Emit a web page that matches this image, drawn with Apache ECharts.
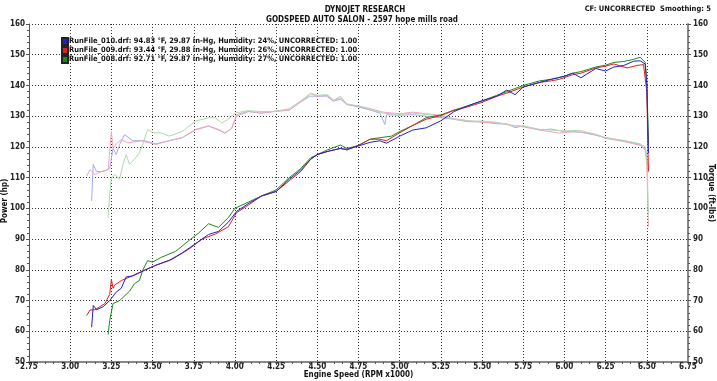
<!DOCTYPE html>
<html>
<head>
<meta charset="utf-8">
<script src="https://cdn.jsdelivr.net/npm/echarts@6/dist/echarts.min.js"></script>
<style>
html,body{margin:0;padding:0;background:#fff;}
#chart{width:717px;height:381px;}
</style>
</head>
<body>
<div id="chart"></div>
<script>
// ---- data (RPM x1000, value) ----
const names = [
  'RunFile_010.drf: 94.83 °F, 29.87 in-Hg, Humidity: 24%, UNCORRECTED: 1.00',
  'RunFile_009.drf: 93.44 °F, 29.88 in-Hg, Humidity: 26%, UNCORRECTED: 1.00',
  'RunFile_008.drf: 92.71 °F, 29.87 in-Hg, Humidity: 27%, UNCORRECTED: 1.00'
];
const xTicks = [2.75,3.00,3.25,3.50,3.75,4.00,4.25,4.50,4.75,5.00,5.25,5.50,5.75,6.00,6.25,6.50,6.75];

const rpmHp010 = [3.13,3.14,3.16,3.20,3.24,3.28,3.31,3.34,3.38,3.45,3.52,3.60,3.68,3.76,3.84,3.90,3.96,4.01,4.08,4.16,4.25,4.33,4.40,4.46,4.50,4.56,4.60,4.64,4.68,4.75,4.82,4.88,4.92,5.00,5.08,5.16,5.25,5.33,5.41,5.50,5.59,5.65,5.70,5.75,5.85,5.92,6.00,6.05,6.10,6.19,6.25,6.30,6.36,6.42,6.46,6.49,6.50,6.51];
const hp010 =    [61.3,68.4,67.0,68.0,70.0,72.8,74.0,77.7,78.0,79.8,81.5,83.0,85.5,88.5,91.5,92.5,95.5,99.0,101.5,104.0,105.5,109.5,112.5,116.0,117.5,118.5,119.0,119.5,119.2,120.3,121.5,122.0,121.2,123.5,125.5,126.2,128.5,131.5,133.3,135.0,136.5,138.5,137.0,139.5,141.0,142.0,143.0,144.0,142.5,145.5,144.7,146.0,146.5,147.9,148.0,147.0,140.0,118.0];

const rpmHp009 = [3.10,3.12,3.15,3.18,3.21,3.24,3.25,3.26,3.27,3.31,3.375,3.455,3.52,3.62,3.72,3.80,3.88,3.96,4.01,4.08,4.16,4.25,4.33,4.40,4.46,4.50,4.56,4.64,4.68,4.75,4.82,4.88,4.92,5.00,5.08,5.16,5.25,5.33,5.41,5.50,5.59,5.65,5.75,5.85,5.92,5.97,6.05,6.10,6.19,6.25,6.30,6.38,6.44,6.48,6.50,6.51];
const hp009 =    [65.1,66.9,67.0,68.0,69.0,72.0,77.0,74.0,75.0,76.5,78.0,80.0,81.5,83.5,86.7,90.0,91.6,94.0,98.6,101.0,104.0,105.5,109.0,112.0,116.0,117.5,118.5,119.5,119.0,120.5,122.5,122.5,122.0,124.6,127.0,129.0,130.2,131.9,133.0,134.5,136.5,137.5,139.5,141.0,141.5,142.0,143.5,144.0,145.7,146.3,147.0,145.7,146.5,146.8,138.0,112.0];

const rpmHp008 = [3.23,3.24,3.26,3.30,3.34,3.36,3.39,3.42,3.44,3.47,3.50,3.55,3.64,3.72,3.78,3.84,3.90,3.96,4.00,4.08,4.16,4.25,4.33,4.40,4.46,4.50,4.56,4.64,4.68,4.75,4.82,4.88,4.95,5.00,5.08,5.16,5.25,5.33,5.41,5.50,5.59,5.65,5.75,5.85,5.92,6.00,6.05,6.10,6.19,6.25,6.30,6.36,6.42,6.46,6.49,6.50,6.51];
const hp008 =    [59.0,63.5,69.0,70.0,72.0,73.0,75.5,76.5,79.8,83.0,82.5,84.0,86.0,89.5,92.0,95.0,93.8,97.0,100.0,102.0,104.0,106.0,110.0,113.0,116.5,117.5,119.0,120.6,119.5,120.5,122.5,123.0,123.5,125.0,127.0,129.5,130.4,132.0,133.3,135.0,136.8,138.0,140.0,141.5,142.0,143.0,144.0,144.5,146.0,146.6,147.5,147.8,148.5,149.2,147.5,142.0,121.0];

const rpmTq010 = [3.13,3.14,3.16,3.20,3.24,3.26,3.28,3.30,3.33,3.38,3.45,3.52,3.60,3.68,3.76,3.84,3.90,3.94,3.98,4.01,4.08,4.16,4.24,4.33,4.395,4.455,4.50,4.556,4.597,4.64,4.68,4.75,4.82,4.88,4.91,4.92,5.00,5.08,5.16,5.25,5.33,5.41,5.50,5.59,5.65,5.70,5.75,5.85,5.92,6.00,6.10,6.19,6.25,6.36,6.46,6.49,6.50,6.51];
const tq010 =    [102.4,114.3,112.0,112.0,113.0,119.5,117.5,120.8,124.0,122.0,122.0,121.0,122.0,123.0,125.5,126.8,125.5,124.5,126.0,130.0,131.5,131.0,131.5,132.0,134.5,136.5,136.5,136.5,134.9,135.5,133.8,133.0,132.0,131.0,127.3,130.5,130.3,130.5,130.0,129.5,129.0,128.2,128.2,127.5,127.5,126.3,126.8,125.5,125.8,125.0,124.8,123.8,123.0,122.0,120.8,119.0,116.0,112.0];

const rpmTq009 = [3.10,3.12,3.15,3.19,3.23,3.25,3.26,3.28,3.31,3.35,3.43,3.52,3.60,3.68,3.76,3.84,3.90,3.94,3.98,4.01,4.08,4.16,4.24,4.33,4.395,4.46,4.50,4.56,4.60,4.64,4.68,4.75,4.82,4.90,5.00,5.08,5.16,5.25,5.33,5.41,5.50,5.59,5.69,5.75,5.85,5.97,6.05,6.10,6.19,6.25,6.38,6.46,6.49,6.50,6.51];
const tq009 =    [110.5,112.6,111.0,112.0,112.6,125.0,119.7,121.0,122.4,121.3,122.0,120.8,122.0,123.0,125.7,126.8,125.7,124.6,126.0,130.5,131.6,131.0,131.6,132.0,134.5,137.3,136.5,136.8,135.0,136.0,133.8,133.3,132.5,131.3,130.8,131.3,130.8,130.3,129.2,128.6,128.0,127.9,127.0,126.5,125.5,124.5,125.0,124.8,124.0,122.8,121.5,120.5,119.5,114.0,94.0];

const rpmTq008 = [3.23,3.24,3.25,3.27,3.30,3.32,3.34,3.36,3.39,3.42,3.44,3.47,3.50,3.55,3.60,3.68,3.76,3.84,3.88,3.92,3.96,4.00,4.08,4.16,4.24,4.33,4.40,4.46,4.50,4.56,4.60,4.64,4.68,4.75,4.82,4.90,5.00,5.08,5.16,5.25,5.33,5.41,5.50,5.59,5.69,5.75,5.85,6.00,6.09,6.19,6.25,6.36,6.46,6.49,6.50,6.51];
const tq008 =    [97.0,104.7,110.0,111.0,109.5,114.3,117.5,114.3,116.0,118.0,120.8,125.7,124.6,124.6,123.5,125.0,128.4,129.5,129.5,127.8,129.0,131.0,131.8,131.5,131.5,132.5,135.0,137.5,136.8,137.0,135.2,136.5,134.0,133.3,132.2,131.0,130.6,131.0,130.6,130.0,129.0,128.4,128.4,128.0,126.8,126.8,125.7,125.2,125.4,124.1,123.0,122.1,121.0,120.0,117.0,98.0];

const pair = (xs, ys) => xs.map((x, i) => [x, ys[i]]);

const FONT = 'DejaVu Sans Condensed';
const chart = echarts.init(document.getElementById('chart'), null, {renderer: 'canvas'});

function line(name, data, color, yIdx, z) {
  return {name, type: 'line', data, yAxisIndex: yIdx, showSymbol: false, symbol: 'none',
    lineStyle: {color, width: 1}, itemStyle: {color, borderColor: '#222', borderWidth: 0.5}, z, animation: false};
}

const option = {
  animation: false,
  backgroundColor: '#fff',
  title: [
    {text: 'DYNOJET RESEARCH', left: 360, top: 1, textAlign: 'center',
     textStyle: {fontFamily: FONT, fontWeight: 'bold', fontSize: 8, color: '#111'}},
    {text: 'GODSPEED AUTO SALON - 2597 hope mills road', left: 357, top: 11, textAlign: 'center',
     textStyle: {fontFamily: FONT, fontWeight: 'bold', fontSize: 8, color: '#111'}},
    {text: 'CF: UNCORRECTED  Smoothing: 5', right: 1, top: 0,
     textStyle: {fontFamily: FONT, fontWeight: 'bold', fontSize: 7.5, color: '#111'}}
  ],
  legend: {
    orient: 'vertical', left: 61, top: 37, itemGap: 0, itemWidth: 6, itemHeight: 7,
    icon: 'rect', padding: 0,
    data: names,
    textStyle: {fontFamily: FONT, fontWeight: 'bold', fontSize: 7.5, color: '#111', padding: [0,0,0,-4]}
  },
  grid: {left: 29, right: 29, top: 24, bottom: 19, outerBoundsMode: 'none', containLabel: false},
  xAxis: {
    type: 'value', min: 2.75, max: 6.75, interval: 0.25,
    name: 'Engine Speed (RPM x1000)', nameLocation: 'middle', nameGap: 9, nameMoveOverlap: false,
    nameTextStyle: {fontFamily: FONT, fontWeight: 'bold', fontSize: 8, color: '#111', verticalAlign: 'top'},
    axisLine: {lineStyle: {color: '#888', width: 2}},
    axisTick: {show: true, length: 3, lineStyle: {color: '#555'}},
    minorTick: {show: true, splitNumber: 5, length: 2, lineStyle: {color: '#555'}},
    axisLabel: {fontFamily: FONT, fontWeight: 'bold', fontSize: 8, color: '#222', margin: 1,
      formatter: v => v.toFixed(2)},
    splitLine: {show: true, lineStyle: {color: '#333', type: [1, 2], width: 1}}
  },
  yAxis: [
    {type: 'value', min: 50, max: 160, interval: 10, position: 'left',
     name: 'Power (hp)', nameLocation: 'middle', nameGap: 20, nameRotate: 90, nameMoveOverlap: false,
     nameTextStyle: {fontFamily: FONT, fontWeight: 'bold', fontSize: 8, color: '#111', padding: [0, 16, 0, 0]},
     axisLine: {show: true, lineStyle: {color: '#555', width: 1}},
     axisTick: {show: true, length: 3, lineStyle: {color: '#555'}},
     minorTick: {show: true, splitNumber: 5, length: 2, lineStyle: {color: '#555'}},
     axisLabel: {fontFamily: FONT, fontWeight: 'bold', fontSize: 8, color: '#222', margin: 4},
     splitLine: {show: true, lineStyle: {color: '#333', type: [1, 2], width: 1}}},
    {type: 'value', min: 50, max: 160, interval: 10, position: 'right',
     name: 'Torque (ft-lbs)', nameLocation: 'middle', nameGap: 19, nameRotate: -90, nameMoveOverlap: false,
     nameTextStyle: {fontFamily: FONT, fontWeight: 'bold', fontSize: 8, color: '#111'},
     axisLine: {show: true, lineStyle: {color: '#888', width: 2}},
     axisTick: {show: true, length: 3, lineStyle: {color: '#555'}},
     minorTick: {show: true, splitNumber: 5, length: 2, lineStyle: {color: '#555'}},
     axisLabel: {fontFamily: FONT, fontWeight: 'bold', fontSize: 8, color: '#222', margin: 5},
     splitLine: {show: false}}
  ],
  series: [
    line('tq010', pair(rpmTq010, tq010), '#a9a9ee', 1, 2),
    line('tq009', pair(rpmTq009, tq009), '#f0a8b8', 1, 2),
    line('tq008', pair(rpmTq008, tq008), '#b0d8b0', 1, 2),
    line(names[2], pair(rpmHp008, hp008), '#1f8a1f', 0, 3),
    line(names[1], pair(rpmHp009, hp009), '#e02020', 0, 3),
    line(names[0], pair(rpmHp010, hp010), '#2020d0', 0, 3)
  ]
};
chart.setOption(option);
</script>
</body>
</html>
